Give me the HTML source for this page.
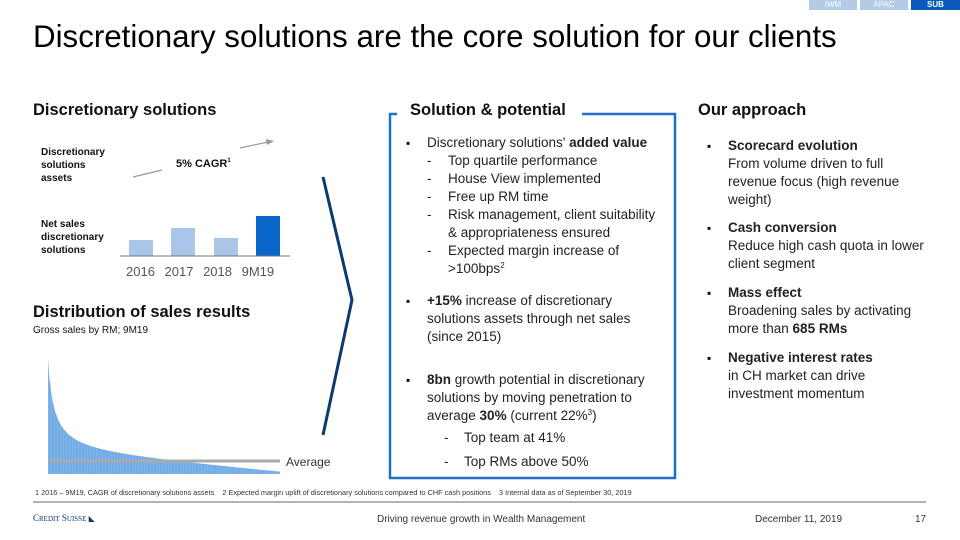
<!DOCTYPE html>
<html><head><meta charset="utf-8"><style>
*{margin:0;padding:0;box-sizing:border-box}
body{width:960px;height:540px;background:#fff;font-family:"Liberation Sans",sans-serif;color:#111;position:relative;overflow:hidden}
.a{position:absolute;white-space:nowrap}
.tab{position:absolute;top:0;height:10px;font-size:8px;color:#fff;text-align:center;line-height:10px}
.h{font-size:16.5px;font-weight:bold}
.t{font-size:13.5px;line-height:18px;color:#222}
sup{font-size:8px;line-height:0;vertical-align:5px}
.b{position:absolute;font-size:12px}
</style></head><body>
<div class="tab" style="left:809px;width:48px;background:#b3cbe6">IWM</div>
<div class="tab" style="left:860px;width:48px;background:#b3cbe6">APAC</div>
<div class="tab" style="left:911px;width:49px;background:#0a5bbd;font-weight:bold">SUB</div>
<div class="a" style="left:33px;top:19px;font-size:31.3px;color:#000">Discretionary solutions are the core solution for our clients</div>

<div class="a h" style="left:33px;top:101px">Discretionary solutions</div>
<div class="a" style="left:41px;top:146px;font-size:10px;font-weight:bold;line-height:13px">Discretionary<br>solutions<br>assets</div>
<div class="a" style="left:41px;top:218px;font-size:10px;font-weight:bold;line-height:13px">Net sales<br>discretionary<br>solutions</div>
<div class="a" style="left:176px;top:158px;font-size:11px;font-weight:bold">5% CAGR<sup style="font-size:6px">1</sup></div>
<svg class="a" style="left:0;top:0" width="960" height="540">
<line x1="133" y1="177" x2="162" y2="170" stroke="#999" stroke-width="1.2"/>
<line x1="240" y1="148" x2="268" y2="142" stroke="#999" stroke-width="1.2"/>
<polygon points="274,141 266,139 267,145" fill="#999"/>
<rect x="129" y="240" width="24" height="16" fill="#a9c6e8"/>
<rect x="171" y="228" width="24" height="28" fill="#a9c6e8"/>
<rect x="214" y="238" width="24" height="18" fill="#a9c6e8"/>
<rect x="256" y="216" width="24" height="40" fill="#0a66c8"/>
<line x1="120" y1="256" x2="290" y2="256" stroke="#777" stroke-width="1"/>
<polyline points="323,177 352,300 323,435" fill="none" stroke="#0b3a6e" stroke-width="3"/>
<g id="dist"></g>
<line x1="48" y1="461" x2="280" y2="461" stroke="#aaa" stroke-width="3"/>
<path d="M397,114 H390 V478 H675 V114 H582" fill="none" stroke="#1f6fc4" stroke-width="2.5"/>
<line x1="33" y1="502" x2="926" y2="502" stroke="#666" stroke-width="1"/>
</svg>
<div class="a" style="left:126px;top:264px;font-size:13px;color:#555;word-spacing:6px">2016 2017 2018 9M19</div>
<div class="a h" style="left:33px;top:303px">Distribution of sales results</div>
<div class="a" style="left:33px;top:325px;font-size:10px">Gross sales by RM; 9M19</div>
<div class="a" style="left:286px;top:455px;font-size:12px;color:#333">Average</div>

<div class="a h" style="left:410px;top:101px">Solution &amp; potential</div>
<div class="b" style="left:406px;top:136px">▪</div>
<div class="a t" style="left:427px;top:134px">Discretionary solutions' <b>added value</b></div>
<div class="a t" style="left:448px;top:152px">Top quartile performance<br>House View implemented<br>Free up RM time<br>Risk management, client suitability<br>&amp; appropriateness ensured<br>Expected margin increase of<br>&gt;100bps<sup>2</sup></div>
<div class="a t" style="left:427px;top:152px;line-height:18px">-<br>-<br>-<br>-<br><br>-</div>
<div class="b" style="left:406px;top:294px">▪</div>
<div class="a t" style="left:427px;top:292px"><b>+15%</b> increase of discretionary<br>solutions assets through net sales<br>(since 2015)</div>
<div class="b" style="left:406px;top:373px">▪</div>
<div class="a t" style="left:427px;top:371px"><b>8bn</b> growth potential in discretionary<br>solutions by moving penetration to<br>average <b>30%</b> (current 22%<sup>3</sup>)</div>
<div class="a t" style="left:444px;top:426px;line-height:24px">-<br>-</div>
<div class="a t" style="left:464px;top:426px;line-height:24px">Top team at 41%<br>Top RMs above 50%</div>

<div class="a h" style="left:698px;top:101px">Our approach</div>
<div class="b" style="left:707px;top:139px">▪</div>
<div class="a t" style="left:728px;top:137px"><b>Scorecard evolution</b><br>From volume driven to full<br>revenue focus (high revenue<br>weight)</div>
<div class="b" style="left:707px;top:221px">▪</div>
<div class="a t" style="left:728px;top:219px"><b>Cash conversion</b><br>Reduce high cash quota in lower<br>client segment</div>
<div class="b" style="left:707px;top:286px">▪</div>
<div class="a t" style="left:728px;top:284px"><b>Mass effect</b><br>Broadening sales by activating<br>more than <b>685 RMs</b></div>
<div class="b" style="left:707px;top:351px">▪</div>
<div class="a t" style="left:728px;top:349px"><b>Negative interest rates</b><br>in CH market can drive<br>investment momentum</div>

<div class="a" style="left:35px;top:488px;font-size:7.3px;color:#333">1 2016 – 9M19, CAGR of discretionary solutions assets&nbsp;&nbsp;&nbsp;&nbsp;2 Expected margin uplift of discretionary solutions compared to CHF cash positions&nbsp;&nbsp;&nbsp;&nbsp;3 Internal data as of September 30, 2019</div>
<div class="a" style="left:33px;top:513px;font-size:9px;color:#0b3a6e;font-family:'Liberation Serif',serif">C<span style="font-size:7px">REDIT</span> S<span style="font-size:7px">UISSE</span> <span style="font-size:8px">◣</span></div>
<div class="a" style="left:377px;top:514px;font-size:10px;color:#333">Driving revenue growth in Wealth Management</div>
<div class="a" style="left:755px;top:514px;font-size:10px;color:#333">December 11, 2019</div>
<div class="a" style="left:915px;top:514px;font-size:10px;color:#333">17</div>
<script>
var g=document.getElementById('dist'),s='',pts='48,474';
for(var x=48;x<=280;x++){var h=95/(1+(x-48)/6)+20*(1-(x-48)/232);pts+=' '+x+','+(474-h).toFixed(1);}
pts+=' 280,474';
s+='<polygon points="'+pts+'" fill="#7fb5ea"/>';
for(var x=50;x<280;x+=3){var h=95/(1+(x-48)/6)+20*(1-(x-48)/232);s+='<line x1="'+x+'" y1="474" x2="'+x+'" y2="'+(474-h).toFixed(1)+'" stroke="#5a9ad8" stroke-width="0.6"/>';}
g.innerHTML=s;
</script>
</body></html>
